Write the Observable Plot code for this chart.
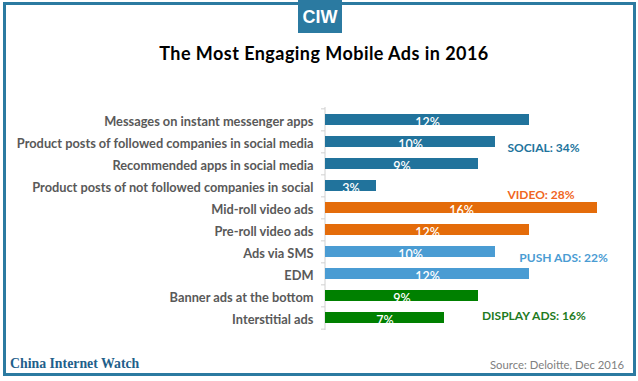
<!DOCTYPE html>
<html><head><meta charset="utf-8">
<script src="https://cdn.jsdelivr.net/npm/d3@7"></script>
<script src="https://cdn.jsdelivr.net/npm/@observablehq/plot@0.6"></script>
<style>
html,body{margin:0;padding:0;background:#fff;}
#wrap{position:relative;width:638px;height:381px;overflow:hidden;font-family:Lato,"Open Sans",sans-serif;}
#frame{position:absolute;left:3px;top:2px;width:627px;height:368px;border:3px solid #2B7AA1;}
#logo{position:absolute;left:298px;top:0;width:44px;height:33px;background:#2B7AA1;color:#fff;text-align:center;font:bold 18px/34px "Liberation Sans Narrow","Liberation Sans",sans-serif;}
#title{position:absolute;left:5px;top:42px;width:638px;text-align:center;font:bold 18px Lato,sans-serif;letter-spacing:0.45px;color:#000;}
#chart{position:absolute;left:0;top:100px;}
#brand{position:absolute;left:10px;top:356px;font:bold 13.8px "Liberation Serif","DejaVu Serif",serif;color:#1F5F8B;}
#source{position:absolute;right:14px;top:358px;font:11.3px Lato,sans-serif;color:#808080;}
</style></head>
<body>
<div id="wrap">
  <div id="frame"></div>
  <div id="logo">CIW</div>
  <div id="title">The Most Engaging Mobile Ads in 2016</div>
  <div id="chart"></div>
  <div id="brand">China Internet Watch</div>
  <div id="source">Source: Deloitte, Dec 2016</div>
</div>
<script>
const categories = [
  "Messages on instant messenger apps",
  "Product posts of followed companies in social media",
  "Recommended apps in social media",
  "Product posts of not followed companies in social",
  "Mid-roll video ads",
  "Pre-roll video ads",
  "Ads via SMS",
  "EDM",
  "Banner ads at the bottom",
  "Interstitial ads"
];
const values = [12, 10, 9, 3, 16, 12, 10, 12, 9, 7];
const groups = ["SOCIAL","SOCIAL","SOCIAL","SOCIAL","VIDEO","VIDEO","PUSH ADS","PUSH ADS","DISPLAY ADS","DISPLAY ADS"];
const groupNames = ["SOCIAL", "VIDEO", "PUSH ADS", "DISPLAY ADS"];

const barColors = ["#21739C", "#E46C0A", "#4A9CD3", "#008000"];
const labelColors = ["#21739C", "#F0661E", "#4A9CD3", "#1E7B1E"];

const data = categories.map((c, i) => ({category: c, value: values[i], group: groups[i]}));
const totals = groupNames.map(g => d3.sum(data.filter(d => d.group === g), d => d.value));

// annotation placement (layout): anchor category, x in scale units, vertical offset
const groupLabelLayout = [
  {cat: 1, x: 10.7, dy: 6},
  {cat: 4, x: 10.7, dy: -12.5},
  {cat: 6, x: 11.4, dy: 6},
  {cat: 9, x: 9.2, dy: -2}
];
const groupLabels = groupNames.map((g, i) => ({
  text: `${g}: ${totals[i]}%`,
  category: categories[groupLabelLayout[i].cat],
  x: groupLabelLayout[i].x,
  dy: groupLabelLayout[i].dy,
  color: labelColors[i]
}));

const W = 638, H = 236, mt = 7, mb = 6, ml = 325, mr = 7;
const step = (H - mt - mb) / categories.length;
const frameW = W - ml - mr;

const chart = Plot.plot({
  width: W, height: H,
  marginLeft: ml, marginRight: mr, marginTop: mt, marginBottom: mb,
  style: {fontFamily: "Lato, sans-serif", background: "transparent"},
  x: {domain: [0, 18], axis: null},
  y: {domain: categories, paddingInner: 0.52, paddingOuter: 0.26, axis: null},
  color: {domain: groupNames, range: barColors},
  marks: [
    Plot.ruleX([0], {stroke: "#D0D0D0", dx: -0.5}),
    Plot.ruleY(categories, {y: d => d, dy: -step / 2, stroke: "#D0D0D0", insetLeft: -4, insetRight: frameW}),
    Plot.ruleY(categories.slice(-1), {y: d => d, dy: step / 2, stroke: "#D0D0D0", insetLeft: -4, insetRight: frameW}),
    Plot.barX(data, {x: "value", y: "category", fill: "group"}),
    Plot.text(data, {x: d => d.value / 2, y: "category", text: d => d.value + "%", fill: "white", fontSize: 12.5, fontWeight: 600, dy: 2.5}),
    Plot.axisY({tickSize: 0, tickPadding: 12, fontSize: 12.8, fontWeight: "bold", color: "#595959", dy: 1.5, label: null}),
    ...groupLabels.map(g => Plot.text([g], {x: "x", y: "category", text: "text", dy: g.dy, fill: g.color, textAnchor: "start", fontSize: 12, fontWeight: "bold"}))
  ]
});
document.getElementById("chart").appendChild(chart);
</script>
</body></html>
